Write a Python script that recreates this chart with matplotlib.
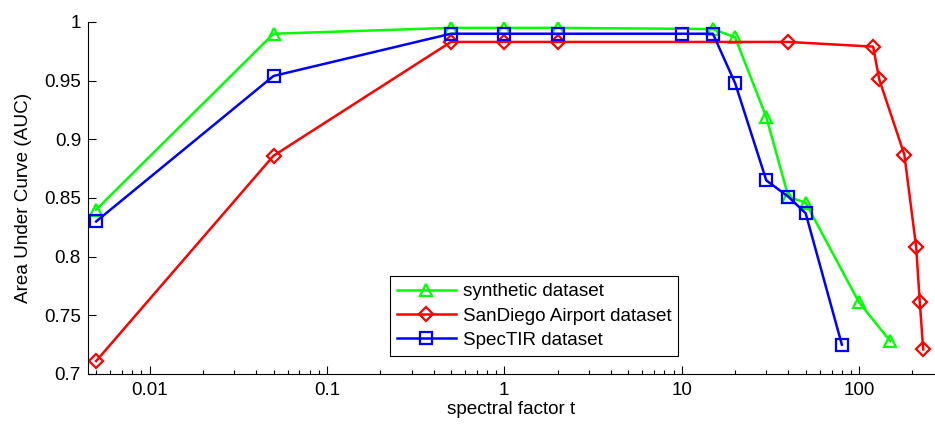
import matplotlib.pyplot as plt
from matplotlib.ticker import FixedLocator, FixedFormatter, LogLocator, NullFormatter

plt.rcParams['font.family'] = ['Liberation Sans', 'DejaVu Sans']

# synthetic dataset
syn_t = [0.005, 0.05, 0.5, 1, 2, 15, 20, 30, 40, 50, 100, 150]
syn_auc = [0.840, 0.990, 0.995, 0.995, 0.995, 0.994, 0.987, 0.919, 0.851, 0.846, 0.761, 0.728]

# SanDiego Airport dataset
sd_t = [0.005, 0.05, 0.5, 1, 2, 40, 120, 130, 180, 210, 220, 230]
sd_auc = [0.711, 0.886, 0.983, 0.983, 0.983, 0.983, 0.979, 0.951, 0.887, 0.808, 0.761, 0.721]

# SpecTIR dataset
st_t = [0.005, 0.05, 0.5, 1, 2, 10, 15, 20, 30, 40, 50, 80]
st_auc = [0.830, 0.954, 0.990, 0.990, 0.990, 0.990, 0.990, 0.948, 0.865, 0.851, 0.837, 0.725]

y_ticks = [0.7, 0.75, 0.8, 0.85, 0.9, 0.95, 1.0]
y_labels = ['0.7', '0.75', '0.8', '0.85', '0.9', '0.95', '1']
x_ticks = [0.01, 0.1, 1, 10, 100]
x_labels = ['0.01', '0.1', '1', '10', '100']

fs = 13.6

fig = plt.figure(figsize=(9.35, 4.26), dpi=100)
ax = fig.add_axes([88 / 935, 1 - 374 / 426, 1 - 88 / 935, (374 - 22) / 426])

style = dict(linewidth=1.8, markersize=9, markeredgewidth=1.6, markerfacecolor='none')
ax.plot(syn_t, syn_auc, '-^', color=(0, 1, 0), label='synthetic dataset', **style)
ax.plot(sd_t, sd_auc, '-D', color=(1, 0, 0), label='SanDiego Airport dataset',
        **{**style, 'markersize': 7.5})
ax.plot(st_t, st_auc, '-s', color=(0, 0, 1), label='SpecTIR dataset', **style)

ax.set_xscale('log')
ax.set_xlim(0.0045, 268)
ax.set_ylim(0.7, 1.0)

ax.xaxis.set_major_locator(FixedLocator(x_ticks))
ax.xaxis.set_major_formatter(FixedFormatter(x_labels))
ax.xaxis.set_minor_locator(LogLocator(base=10, subs=range(2, 10)))
ax.xaxis.set_minor_formatter(NullFormatter())
ax.yaxis.set_major_locator(FixedLocator(y_ticks))
ax.yaxis.set_major_formatter(FixedFormatter(y_labels))

ax.tick_params(which='both', direction='in', labelsize=fs, width=0.8)
ax.tick_params(which='major', length=6)
ax.tick_params(which='minor', length=3)
ax.tick_params(axis='x', pad=6)
ax.tick_params(axis='y', pad=5)

for side in ['top', 'right']:
    ax.spines[side].set_visible(False)

ax.set_xlabel('spectral factor t', fontsize=fs, labelpad=1)
ax.set_ylabel('Area Under Curve (AUC)', fontsize=fs, labelpad=9)

leg = ax.legend(loc='lower left', fontsize=fs, fancybox=False, framealpha=1,
                edgecolor='black', handlelength=3.1, handletextpad=0.4,
                borderpad=0.35, labelspacing=0.38)
leg.set_bbox_to_anchor((381 / 935, (426 - 365) / 426), transform=fig.transFigure)
leg.get_frame().set_linewidth(0.8)

fig.savefig('out.png', dpi=100)
